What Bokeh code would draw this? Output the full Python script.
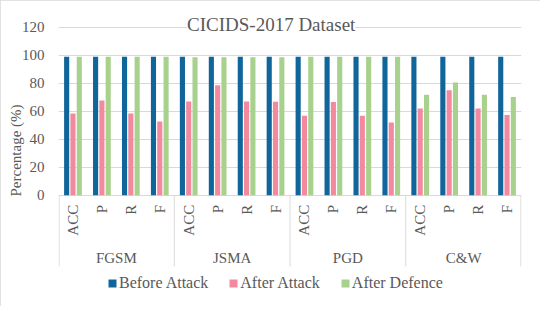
import math
from bokeh.plotting import figure
from bokeh.models import (ColumnDataSource, FactorRange, Range1d, Label, Legend, LegendItem,
                          FixedTicker, Title)
from bokeh.core.properties import value
from bokeh.transform import dodge
from bokeh.embed import file_html
from bokeh.resources import INLINE

attacks = ["FGSM", "JSMA", "PGD", "C&W"]
metrics = ["ACC", "P", "R", "F"]
before_attack = [98.8, 98.8, 98.8, 98.8, 98.8, 98.8, 98.8, 98.8,
                 98.8, 98.8, 98.8, 98.8, 98.8, 98.8, 98.8, 98.8]
after_attack = [58.4, 67.7, 58.4, 52.7, 67.0, 78.6, 67.0, 66.8,
                56.8, 66.6, 56.8, 52.0, 62.0, 75.0, 62.0, 57.3]
after_defence = [98.8, 98.8, 98.8, 98.8, 98.5, 98.5, 98.5, 98.5,
                 98.8, 98.8, 98.8, 98.8, 71.8, 80.4, 71.8, 70.2]
y_ticks = [0, 20, 40, 60, 80, 100, 120]

FONT = "Liberation Serif"
TXT = "#595959"
GRID = "#D9D9D9"
C_BEFORE = "#10659A"
C_ATTACK = "#F2899F"
C_DEFENCE = "#A9D18E"

# layout (pixels in the figure)
W, H = 540, 306
TOP, BOTTOM = 12, 300          # frame edges
Y0_PX = 194.8                  # where value 0 sits
PX_PER_UNIT = 1.4017


def y_at(px):
    return (Y0_PX - px) / PX_PER_UNIT


factors = [(a, m) for a in attacks for m in metrics]
src = ColumnDataSource(dict(x=factors, metric=[m for a in attacks for m in metrics],
                            before=before_attack, attack=after_attack, defence=after_defence))

p = figure(width=W, height=H, output_backend="svg", toolbar_location=None,
           x_range=FactorRange(*factors, factor_padding=0, group_padding=0, range_padding=0),
           y_range=Range1d(y_at(BOTTOM), y_at(TOP)),
           min_border_left=58, min_border_right=19, min_border_top=TOP,
           min_border_bottom=H - BOTTOM)
p.outline_line_color = None
p.background_fill_color = "white"
p.styles = {"outline": "1px solid #D9D9D9", "outline-offset": "-1px"}
p.xaxis.visible = False

w = 0.177
r1 = p.vbar(x=dodge("x", -0.218, range=p.x_range), top="before", width=w, source=src,
            fill_color=C_BEFORE, line_color=None)
r2 = p.vbar(x=dodge("x", 0.0, range=p.x_range), top="attack", width=w, source=src,
            fill_color=C_ATTACK, line_color=None)
r3 = p.vbar(x=dodge("x", 0.218, range=p.x_range), top="defence", width=w, source=src,
            fill_color=C_DEFENCE, line_color=None)

p.ygrid.ticker = FixedTicker(ticks=y_ticks)
p.ygrid.grid_line_color = GRID
p.xgrid.grid_line_color = None

ya = p.yaxis[0]
ya.ticker = FixedTicker(ticks=y_ticks)
ya.axis_line_color = None
ya.major_tick_line_color = None
ya.minor_tick_line_color = None
ya.major_tick_out = 0
ya.minor_tick_out = 0
ya.major_label_standoff = 14
ya.major_label_text_font = FONT
ya.major_label_text_font_size = "15px"
ya.major_label_text_color = TXT

# category axis: metric labels, attack group labels, group separators
p.text(x="x", y=y_at(204.3), text="metric", source=src, angle=math.pi / 2,
       text_align="right", text_baseline="middle", text_font=value(FONT),
       text_font_size="15px", text_color=TXT)
p.text(x=attacks, y=y_at(257.5), text=attacks, text_align="center", text_baseline="middle",
       text_font=value(FONT), text_font_size="15px", text_color=TXT)
bounds = [i * len(metrics) for i in range(len(attacks) + 1)]
bounds[0] += 0.02
bounds[-1] -= 0.02
p.segment(x0=bounds, y0=0, x1=bounds, y1=y_at(266), line_color=GRID, line_width=1)

title = Label(x=7.35, y=y_at(23.8), text="CICIDS-2017 Dataset", text_align="center",
              text_baseline="middle", text_font=FONT, text_font_size="19px", text_color=TXT,
              background_fill_color="white")
p.add_layout(title)

ylab = Title(text="Percentage (%)", align="left", offset=104, standoff=-10,
             text_font=FONT, text_font_size="15px", text_font_style="normal", text_color=TXT)
p.add_layout(ylab, "left")

legend = Legend(items=[LegendItem(label="Before Attack", renderers=[r1]),
                       LegendItem(label="After Attack", renderers=[r2]),
                       LegendItem(label="After Defence", renderers=[r3])],
                orientation="horizontal", location=(49, 8),
                glyph_width=10, glyph_height=10, label_standoff=2, spacing=20,
                padding=0, margin=0, border_line_color=None, background_fill_alpha=0,
                label_text_font=FONT, label_text_font_size="16px", label_text_color=TXT)
p.add_layout(legend)

open("out.html", "w").write(file_html(p, INLINE))
